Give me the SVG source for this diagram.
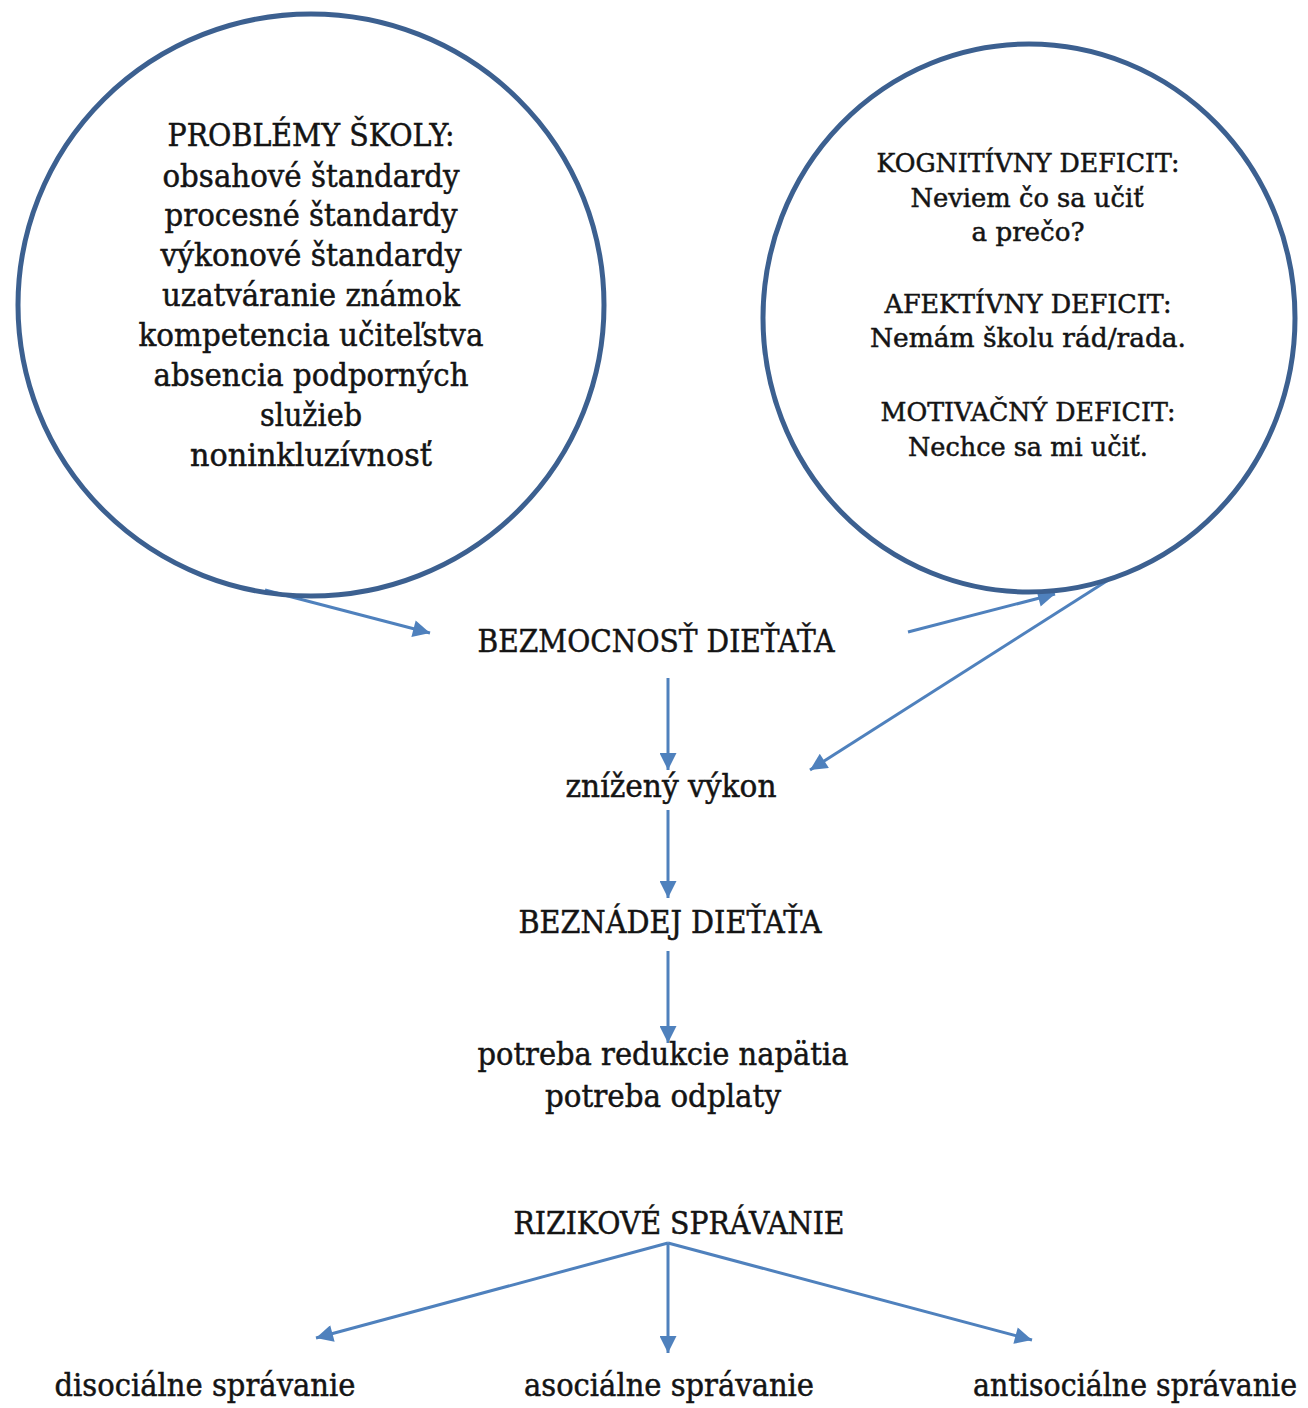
<svg xmlns="http://www.w3.org/2000/svg" width="1308" height="1408" viewBox="0 0 1308 1408">
<defs>
<marker id="ah" viewBox="0 0 10 10" refX="10" refY="5" markerWidth="20" markerHeight="17" markerUnits="userSpaceOnUse" orient="auto">
<path d="M0,0 L10,5 L0,10 z" fill="#4f81bd"/>
</marker>
<style>
.t{font-family:"DejaVu Serif","Liberation Serif",serif;fill:#141414;stroke:#141414;stroke-width:0.5;text-anchor:middle;}
.l{font-size:31px;}
.r{font-size:26px;}
.m{font-size:32px;}
.c{fill:none;stroke:#3c6090;stroke-width:5;}
.a{fill:none;stroke:#4f81bd;stroke-width:3;marker-end:url(#ah);}
</style>
</defs>
<rect width="1308" height="1408" fill="#ffffff"/>
<g id="connectors">
<line class="a" x1="265" y1="590" x2="430" y2="633"/>
<line class="a" x1="908" y1="632" x2="1055" y2="594"/>
<line class="a" x1="1113" y1="577" x2="810" y2="770"/>
<line class="a" x1="668" y1="678" x2="668" y2="770"/>
<line class="a" x1="668" y1="810" x2="668" y2="898"/>
<line class="a" x1="668" y1="951" x2="668" y2="1043"/>
<line class="a" x1="668" y1="1243" x2="316" y2="1338"/>
<line class="a" x1="668" y1="1243" x2="668" y2="1353"/>
<line class="a" x1="668" y1="1243" x2="1032" y2="1340"/>
</g>
<g id="problemy-skoly">
<ellipse class="c" cx="311" cy="305" rx="293" ry="291"/>
<text class="t l" x="311" y="146" textLength="287" lengthAdjust="spacingAndGlyphs">PROBLÉMY ŠKOLY:</text>
<text class="t l" x="311" y="187" textLength="297" lengthAdjust="spacingAndGlyphs">obsahové štandardy</text>
<text class="t l" x="311" y="226" textLength="293" lengthAdjust="spacingAndGlyphs">procesné štandardy</text>
<text class="t l" x="311" y="266" textLength="301" lengthAdjust="spacingAndGlyphs">výkonové štandardy</text>
<text class="t l" x="311" y="306" textLength="298" lengthAdjust="spacingAndGlyphs">uzatváranie známok</text>
<text class="t l" x="311" y="346" textLength="345" lengthAdjust="spacingAndGlyphs">kompetencia učiteľstva</text>
<text class="t l" x="311" y="386" textLength="315" lengthAdjust="spacingAndGlyphs">absencia podporných</text>
<text class="t l" x="311" y="426" textLength="102" lengthAdjust="spacingAndGlyphs">služieb</text>
<text class="t l" x="311" y="466" textLength="242" lengthAdjust="spacingAndGlyphs">noninkluzívnosť</text>
</g>
<g id="deficity">
<ellipse class="c" cx="1029" cy="318" rx="266" ry="274"/>
<text class="t r" x="1028" y="172" textLength="303" lengthAdjust="spacingAndGlyphs">KOGNITÍVNY DEFICIT:</text>
<text class="t r" x="1027" y="207" textLength="233" lengthAdjust="spacingAndGlyphs">Neviem čo sa učiť</text>
<text class="t r" x="1028" y="241" textLength="113" lengthAdjust="spacingAndGlyphs">a prečo?</text>
<text class="t r" x="1028" y="313" textLength="287" lengthAdjust="spacingAndGlyphs">AFEKTÍVNY DEFICIT:</text>
<text class="t r" x="1028" y="347" textLength="316" lengthAdjust="spacingAndGlyphs">Nemám školu rád/rada.</text>
<text class="t r" x="1028" y="421" textLength="295" lengthAdjust="spacingAndGlyphs">MOTIVAČNÝ DEFICIT:</text>
<text class="t r" x="1028" y="456" textLength="240" lengthAdjust="spacingAndGlyphs">Nechce sa mi učiť.</text>
</g>
<g id="bezmocnost">
<text class="t m" x="656" y="652" textLength="357" lengthAdjust="spacingAndGlyphs">BEZMOCNOSŤ DIEŤAŤA</text>
</g>
<g id="znizeny-vykon">
<text class="t m" x="671" y="797" textLength="211" lengthAdjust="spacingAndGlyphs">znížený výkon</text>
</g>
<g id="beznadej">
<text class="t m" x="670" y="933" textLength="303" lengthAdjust="spacingAndGlyphs">BEZNÁDEJ DIEŤAŤA</text>
</g>
<g id="potreba">
<text class="t m" x="663" y="1065" textLength="371" lengthAdjust="spacingAndGlyphs">potreba redukcie napätia</text>
<text class="t m" x="663" y="1107" textLength="236" lengthAdjust="spacingAndGlyphs">potreba odplaty</text>
</g>
<g id="rizikove">
<text class="t m" x="679" y="1234" textLength="331" lengthAdjust="spacingAndGlyphs">RIZIKOVÉ SPRÁVANIE</text>
</g>
<g id="disocialne">
<text class="t m" x="205" y="1396" textLength="301" lengthAdjust="spacingAndGlyphs">disociálne správanie</text>
</g>
<g id="asocialne">
<text class="t m" x="669" y="1396" textLength="290" lengthAdjust="spacingAndGlyphs">asociálne správanie</text>
</g>
<g id="antisocialne">
<text class="t m" transform="translate(1135,1396) scale(0.8,1)" x="0" y="0" textLength="405" lengthAdjust="spacingAndGlyphs">antisociálne správanie</text>
</g>
</svg>
